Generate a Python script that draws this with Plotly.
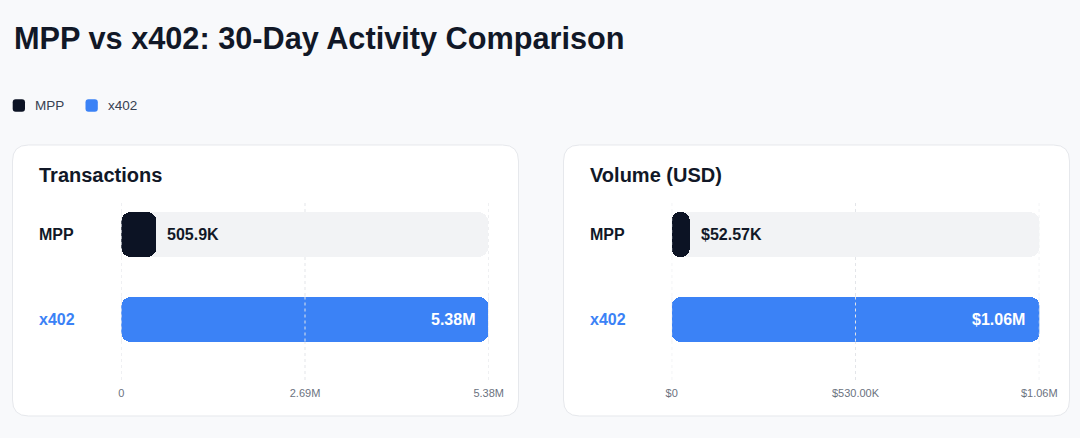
import plotly.graph_objects as go

# ---------------- data ----------------
categories = ["MPP", "x402"]
tx_values = [505900, 5380000]
tx_labels = ["505.9K", "5.38M"]
tx_tickvals = [0, 2690000, 5380000]
tx_ticktext = ["0", "2.69M", "5.38M"]

vol_values = [52570, 1060000]
vol_labels = ["$52.57K", "$1.06M"]
vol_tickvals = [0, 530000, 1060000]
vol_ticktext = ["$0", "$530.00K", "$1.06M"]

panel_titles = ["Transactions", "Volume (USD)"]
chart_title = "MPP vs x402: 30-Day Activity Comparison"

# ---------------- style ----------------
W, H = 1080, 438
BG = "#f8f9fb"
CARD = "#ffffff"
CARD_LINE = "#e6e8ec"
TRACK = "#f2f3f5"
GRID = "#e3e5e9"
DARK = "#0c1324"
BLUE = "#3b82f6"
TEXT = "#111827"
TICK = "#6b7280"
FONT = "Liberation Sans, Arial, Helvetica, sans-serif"
bar_colors = [DARK, BLUE]
label_colors = [TEXT, BLUE]


def fx(px):
    return px / W


def fy(py):
    return 1 - py / H


def rrect(x0, y0, x1, y1, r):
    def P(x, y):
        return f"{fx(x):.5f},{fy(y):.5f}"
    return (f"M {P(x0 + r, y0)} L {P(x1 - r, y0)} Q {P(x1, y0)} {P(x1, y0 + r)} "
            f"L {P(x1, y1 - r)} Q {P(x1, y1)} {P(x1 - r, y1)} "
            f"L {P(x0 + r, y1)} Q {P(x0, y1)} {P(x0, y1 - r)} "
            f"L {P(x0, y0 + r)} Q {P(x0, y0)} {P(x0 + r, y0)} Z")


# plot area geometry (pixels)
plot_top, plot_bot = 202, 380
c0, c1 = 234.5, 319.0
unit = c1 - c0
yr_top = 0 - (c0 - plot_top) / unit
yr_bot = 1 + (plot_bot - c1) / unit
bar_w = 45 / unit

panels = [
    dict(values=tx_values, labels=tx_labels, tickvals=tx_tickvals, ticktext=tx_ticktext,
         x0=121.3, x1=488.7, card=(12.5, 145, 518.5, 416), title=panel_titles[0], lab_x=38),
    dict(values=vol_values, labels=vol_labels, tickvals=vol_tickvals, ticktext=vol_ticktext,
         x0=671.7, x1=1039.3, card=(563.5, 145, 1069.5, 416), title=panel_titles[1], lab_x=589),
]

fig = go.Figure()
shapes = []
annotations = []


def add_round_bar(values, colors, radius, xa, ya):
    """Bar rounded at both ends: two overlapping pieces grown outward from inside the bar."""
    common = dict(y=categories, orientation="h", width=bar_w, xaxis=xa, yaxis=ya,
                  hoverinfo="skip", showlegend=False)
    # piece reaching the value end
    fig.add_trace(go.Bar(base=[v * 0.1 for v in values], x=[v * 0.9 for v in values],
                         marker=dict(color=colors, cornerradius=radius, line=dict(width=0)), **common))
    # piece reaching back to zero
    fig.add_trace(go.Bar(base=[v * 0.9 for v in values], x=[-v * 0.9 for v in values],
                         marker=dict(color=colors, cornerradius=radius, line=dict(width=0)), **common))


for i, p in enumerate(panels):
    xa = "x" if i == 0 else "x2"
    ya = "y" if i == 0 else "y2"
    vmax = max(p["values"])

    # card
    cx0, cy0, cx1, cy1 = p["card"]
    shapes.append(dict(type="path", path=rrect(cx0, cy0, cx1, cy1, 16), xref="paper", yref="paper",
                       fillcolor=CARD, line=dict(color=CARD_LINE, width=1), layer="below"))
    # vertical dashed gridlines behind the bars
    for tv in p["tickvals"]:
        shapes.append(dict(type="line", xref=xa, yref=f"{ya} domain", x0=tv, x1=tv, y0=0, y1=1,
                           line=dict(color=GRID, width=1, dash="3px,3px"), layer="below"))

    add_round_bar([vmax] * len(categories), [TRACK] * len(categories), 10, xa, ya)
    add_round_bar(p["values"], bar_colors, 9, xa, ya)

    # gridlines drawn over the coloured bars
    for j, v in enumerate(p["values"]):
        for tv in p["tickvals"]:
            if tv <= v:
                shapes.append(dict(type="line", xref=xa, yref=ya, x0=tv, x1=tv,
                                   y0=j - bar_w / 2, y1=j + bar_w / 2,
                                   line=dict(color=GRID, width=1, dash="3px,3px"), layer="above"))
    # panel title
    annotations.append(dict(text=f"<b>{p['title']}</b>", xref="paper", yref="paper",
                            x=fx(p["lab_x"] - 1), y=fy(175), xanchor="left", yanchor="middle",
                            showarrow=False, font=dict(size=20, color=TEXT, family=FONT)))
    # category labels
    for j, cat in enumerate(categories):
        annotations.append(dict(text=f"<b>{cat}</b>", xref="paper", yref=ya,
                                x=fx(p["lab_x"] - 1), y=cat, xanchor="left", yanchor="middle",
                                showarrow=False, font=dict(size=16, color=label_colors[j], family=FONT)))
    # value labels
    for j, cat in enumerate(categories):
        v = p["values"][j]
        inside = v >= 0.5 * vmax
        annotations.append(dict(text=f"<b>{p['labels'][j]}</b>", xref=xa, yref=ya,
                                x=v, y=cat, xanchor="right" if inside else "left", yanchor="middle",
                                xshift=-12 if inside else 9, showarrow=False,
                                font=dict(size=16, color="#ffffff" if inside else TEXT, family=FONT)))

# title
annotations.append(dict(text=f"<b>{chart_title}</b>", xref="paper", yref="paper",
                        x=fx(12.3), y=fy(38.5), xanchor="left", yanchor="middle", showarrow=False,
                        font=dict(size=30.7, color=TEXT, family=FONT)))

# legend
leg = [(categories[0], bar_colors[0], 12.7), (categories[1], BLUE, 85.5)]
for name, col, lx in leg:
    shapes.append(dict(type="path", path=rrect(lx, 99.3, lx + 12.3, 111.7, 3), xref="paper", yref="paper",
                       fillcolor=col, line=dict(width=0), layer="above"))
    annotations.append(dict(text=name, xref="paper", yref="paper", x=fx(lx + 20.5), y=fy(105.5),
                            xanchor="left", yanchor="middle", showarrow=False,
                            font=dict(size=13.5, color="#374151", family=FONT)))

axis_common = dict(showgrid=False, zeroline=False, showline=False, ticks="", automargin=False,
                   ticklabelstandoff=5,
                   tickfont=dict(size=11, color=TICK, family=FONT), fixedrange=True)
yaxis_common = dict(showgrid=False, zeroline=False, showline=False, showticklabels=False,
                    automargin=False, range=[yr_bot, yr_top], type="category", fixedrange=True)

fig.update_layout(
    width=W, height=H, autosize=False,
    margin=dict(l=0, r=0, t=0, b=0, pad=0, autoexpand=False),
    paper_bgcolor=BG, plot_bgcolor="rgba(0,0,0,0)",
    barmode="overlay", bargap=0,
    showlegend=False,
    font=dict(family=FONT),
    xaxis=dict(domain=[fx(panels[0]["x0"]), fx(panels[0]["x1"])], range=[0, max(tx_values)],
               tickvals=tx_tickvals, ticktext=tx_ticktext, anchor="y", **axis_common),
    xaxis2=dict(domain=[fx(panels[1]["x0"]), fx(panels[1]["x1"])], range=[0, max(vol_values)],
                tickvals=vol_tickvals, ticktext=vol_ticktext, anchor="y2", **axis_common),
    yaxis=dict(domain=[fy(plot_bot), fy(plot_top)], anchor="x", **yaxis_common),
    yaxis2=dict(domain=[fy(plot_bot), fy(plot_top)], anchor="x2", **yaxis_common),
    shapes=shapes,
    annotations=annotations,
)

fig.write_html("out.html", config={"displayModeBar": False},
               post_script="document.body.style.margin='0';document.body.style.padding='0';")
